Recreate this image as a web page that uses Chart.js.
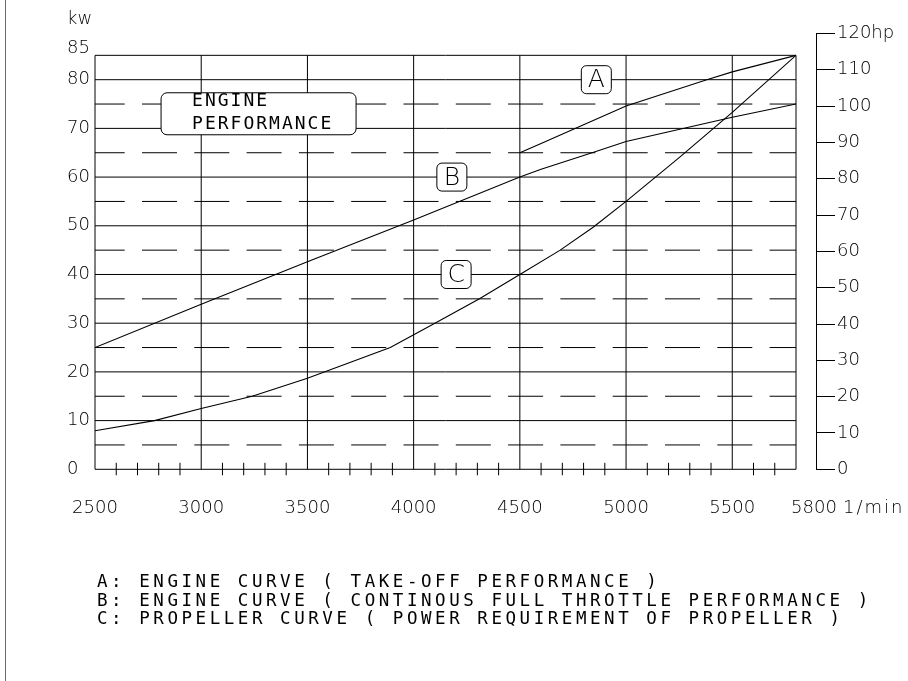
<!DOCTYPE html>
<html>
<head>
<meta charset="utf-8">
<title>Engine performance</title>
<script src="https://cdn.jsdelivr.net/npm/chart.js@4/dist/chart.umd.min.js"></script>
<style>
  html, body { margin: 0; padding: 0; background: #fff; }
  #sheet { position: relative; width: 908px; height: 681px; overflow: hidden; background: #fff; }
  #frame { position: absolute; left: 5px; top: 0; width: 1px; height: 681px; background: #6a6a6a; }
  #plot { position: absolute; left: 0; top: 0; width: 908px; height: 681px; }
  #notes {
    position: absolute; left: 97px; top: 572px; margin: 0;
    font-family: "DejaVu Sans Mono", "Liberation Mono", monospace;
    font-size: 17.5px; line-height: 18.5px; letter-spacing: 3.55px;
    color: #000; white-space: pre;
  }
</style>
</head>
<body>
<div id="sheet">
  <div id="frame"></div>
  <div id="plot"><canvas id="chart"></canvas></div>
  <div id="notes">A: ENGINE CURVE ( TAKE-OFF PERFORMANCE )
B: ENGINE CURVE ( CONTINOUS FULL THROTTLE PERFORMANCE )
C: PROPELLER CURVE ( POWER REQUIREMENT OF PROPELLER )</div>
</div>
<script>
// ---- axis values ----
const KW_PER_HP = 0.7457;
const RPM_TICKS = [2500, 3000, 3500, 4000, 4500, 5000, 5500, 5800];
const KW_TICKS = [0, 10, 20, 30, 40, 50, 60, 70, 80, 85];
const KW_DASHED = [5, 15, 25, 35, 45, 55, 65, 75];
const HP_MAX = 120;
const HP_STEP = 10;

// ---- curves: engine speed (1/min) and power (kW) ----
const RPM_A = [4500, 4600, 5000, 5380, 5500, 5800];
const KW_A  = [65, 66.9, 74.6, 80, 81.6, 85];

const RPM_B = [2500, 3000, 3500, 4000, 4500, 4600, 4840, 5000, 5500, 5800];
const KW_B  = [25, 33.9, 42.6, 51.2, 60, 61.6, 65, 67.3, 72.3, 75];

const RPM_C = [2500, 2780, 3000, 3240, 3500, 3890, 4100, 4310, 4500, 4690, 4845, 5000, 5250, 5500, 5800];
const KW_C  = [7.9, 10, 12.5, 15, 18.7, 25, 30, 35, 40, 45, 49.7, 55, 64, 73.3, 85];

// ---- captions placed in data space ----
const CURVE_TAGS = [
  { text: 'A', rpm: 4860, kw: 80 },
  { text: 'B', rpm: 4180, kw: 60 },
  { text: 'C', rpm: 4200, kw: 40 }
];
const PANEL = { lines: ['ENGINE', 'PERFORMANCE'], rpm: 3270, kw: 73 };

const INK = '#000';
const SANS = '"DejaVu Sans", "Liberation Sans", sans-serif';
const MONO = '"DejaVu Sans Mono", "Liberation Mono", monospace';
const TICK_FONT = { family: SANS, size: 18, weight: '200', lineHeight: 1.2 };

function pairs(xs, ys) { return xs.map((x, i) => ({ x: x, y: ys[i] })); }

function roundedBox(ctx, x, y, w, h, r) {
  ctx.beginPath();
  ctx.moveTo(x + r, y);
  ctx.lineTo(x + w - r, y);
  ctx.arcTo(x + w, y, x + w, y + r, r);
  ctx.lineTo(x + w, y + h - r);
  ctx.arcTo(x + w, y + h, x + w - r, y + h, r);
  ctx.lineTo(x + r, y + h);
  ctx.arcTo(x, y + h, x, y + h - r, r);
  ctx.lineTo(x, y + r);
  ctx.arcTo(x, y, x + r, y, r);
  ctx.closePath();
  ctx.fillStyle = '#fff';
  ctx.fill();
  ctx.strokeStyle = INK;
  ctx.lineWidth = 1;
  ctx.stroke();
}

// Drawing-sheet grid: solid lines every 10 kW and every 500 1/min,
// dashed half-steps, and small speed ticks every 100 1/min.
const sheetGrid = {
  id: 'sheetGrid',
  beforeDatasetsDraw(chart) {
    const { ctx } = chart;
    const xs = chart.scales.x, ys = chart.scales.y;
    const rpmLo = RPM_TICKS[0], rpmHi = RPM_TICKS[RPM_TICKS.length - 1];
    const x0 = xs.getPixelForValue(rpmLo);
    const x1 = xs.getPixelForValue(rpmHi);
    const yBottom = ys.getPixelForValue(0);
    const yTop = ys.getPixelForValue(KW_TICKS[KW_TICKS.length - 1]);
    ctx.save();
    ctx.strokeStyle = INK;
    ctx.lineWidth = 1;
    ctx.beginPath();
    KW_TICKS.forEach(v => {
      const py = ys.getPixelForValue(v);
      ctx.moveTo(x0, py); ctx.lineTo(x1, py);
    });
    RPM_TICKS.forEach(v => {
      const px = xs.getPixelForValue(v);
      ctx.moveTo(px, yBottom); ctx.lineTo(px, yTop);
    });
    for (let r = rpmLo + 100; r < rpmHi; r += 100) {
      if (r % 500 === 0) continue;
      const px = xs.getPixelForValue(r);
      ctx.moveTo(px, yBottom - 6.5); ctx.lineTo(px, yBottom + 6);
    }
    ctx.stroke();
    ctx.setLineDash([35, 17.3]);
    ctx.lineDashOffset = 5.3;
    KW_DASHED.forEach(v => {
      const py = ys.getPixelForValue(v);
      ctx.beginPath();
      ctx.moveTo(x0, py); ctx.lineTo(x1, py);
      ctx.stroke();
    });
    ctx.restore();
  },
  afterDatasetsDraw(chart) {
    const { ctx } = chart;
    const xs = chart.scales.x, ys = chart.scales.y;
    ctx.save();

    // title panel
    const pw = 195, ph = 42;
    const pcx = xs.getPixelForValue(PANEL.rpm), pcy = ys.getPixelForValue(PANEL.kw);
    roundedBox(ctx, pcx - pw / 2, pcy - ph / 2, pw, ph, 6);
    ctx.fillStyle = INK;
    ctx.font = '18px ' + MONO;
    ctx.letterSpacing = '2px';
    ctx.textAlign = 'left';
    ctx.textBaseline = 'middle';
    ctx.fillText(PANEL.lines[0], pcx - pw / 2 + 31, pcy - 12);
    ctx.fillText(PANEL.lines[1], pcx - pw / 2 + 31, pcy + 10.5);
    ctx.letterSpacing = '0px';

    // curve letters
    CURVE_TAGS.forEach(t => {
      const cx = xs.getPixelForValue(t.rpm), cy = ys.getPixelForValue(t.kw);
      roundedBox(ctx, cx - 15, cy - 14, 30, 28, 5);
      ctx.fillStyle = INK;
      ctx.font = '200 25px ' + SANS;
      ctx.textAlign = 'center';
      ctx.textBaseline = 'middle';
      ctx.fillText(t.text, cx, cy + 1);
    });
    ctx.restore();
  },
  afterDraw(chart) {
    const { ctx } = chart;
    const xs = chart.scales.x, ys = chart.scales.y;
    ctx.save();
    ctx.fillStyle = INK;
    ctx.font = '200 18px ' + SANS;
    ctx.textAlign = 'left';
    ctx.textBaseline = 'alphabetic';
    ctx.fillText('kw', ys.left, ys.getPixelForValue(85) - 31.5);
    ctx.textBaseline = 'middle';
    ctx.letterSpacing = '2px';
    ctx.fillText('1/min', xs.getPixelForValue(5800) + 47, xs.top + 39);
    ctx.restore();
  }
};

const lineStyle = { borderColor: INK, borderWidth: 1.1, pointRadius: 0, tension: 0, fill: false, xAxisID: 'x', yAxisID: 'y' };

new Chart(document.getElementById('chart'), {
  type: 'line',
  data: {
    datasets: [
      Object.assign({ label: 'A', data: pairs(RPM_A, KW_A) }, lineStyle),
      Object.assign({ label: 'B', data: pairs(RPM_B, KW_B) }, lineStyle),
      Object.assign({ label: 'C', data: pairs(RPM_C, KW_C) }, lineStyle)
    ]
  },
  options: {
    responsive: true,
    maintainAspectRatio: false,
    animation: false,
    events: [],
    layout: { padding: { left: 67, top: 33.5, right: 0, bottom: 0 } },
    plugins: { legend: { display: false }, tooltip: { enabled: false } },
    scales: {
      x: {
        type: 'linear', position: 'bottom', bounds: 'data',
        min: RPM_TICKS[0], max: RPM_TICKS[RPM_TICKS.length - 1],
        grid: { display: false, drawTicks: false },
        border: { display: false },
        afterBuildTicks: s => { s.ticks = RPM_TICKS.map(v => ({ value: v })); },
        afterFit: s => { s.height = 211.7; },
        ticks: {
          autoSkip: false, maxRotation: 0, minRotation: 0, padding: 28,
          color: INK, font: TICK_FONT,
          callback: v => v === RPM_TICKS[RPM_TICKS.length - 1] ? '\u2003\u2003' + v : String(v)
        }
      },
      y: {
        type: 'linear', position: 'left', bounds: 'data',
        min: 0, max: HP_MAX * KW_PER_HP,
        grid: { display: false, drawTicks: false },
        border: { display: false },
        afterBuildTicks: s => { s.ticks = KW_TICKS.map(v => ({ value: v })); },
        afterFit: s => { s.width = 28; },
        ticks: {
          autoSkip: false, crossAlign: 'far', padding: 0, color: INK,
          font: c => (c.tick && c.tick.value === 85) ? Object.assign({}, TICK_FONT, { lineHeight: 0.75 }) : TICK_FONT,
          callback: v => v === 85 ? ['85', ''] : String(v)
        }
      },
      gap: {
        type: 'linear', position: 'right', weight: 0, display: true,
        grid: { display: false, drawTicks: false },
        border: { display: false },
        ticks: { display: false },
        afterFit: s => { s.width = 20; }
      },
      hp: {
        type: 'linear', position: 'right', weight: 1, bounds: 'data',
        min: 0, max: HP_MAX,
        grid: { display: true, drawOnChartArea: false, drawTicks: true, tickLength: 19, color: INK, tickColor: INK, lineWidth: 1 },
        border: { display: true, color: INK, width: 1 },
        afterFit: s => { s.width = 92; },
        ticks: {
          autoSkip: false, stepSize: HP_STEP, padding: 2, color: INK, font: TICK_FONT,
          callback: v => v === HP_MAX ? v + 'hp' : String(v)
        }
      }
    }
  },
  plugins: [sheetGrid]
});
</script>
</body>
</html>
